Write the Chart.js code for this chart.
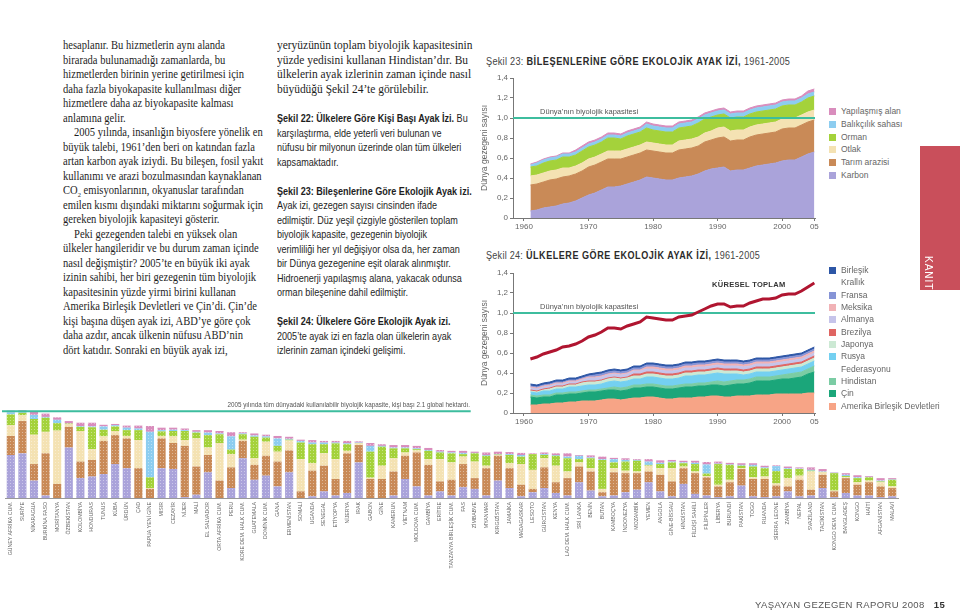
<!DOCTYPE html>
<html lang="tr">
<head>
<meta charset="utf-8">
<script src="https://cdn.jsdelivr.net/npm/chart.js@4.4.1/dist/chart.umd.min.js"></script>
<style>
html, body { margin: 0; padding: 0; background: #fff; }
body { width: 960px; height: 612px; position: relative; overflow: hidden; font-family: "Liberation Sans", Arial, sans-serif; color: #222; }
.abs { position: absolute; }
.serif { font-family: "Liberation Serif", "Times New Roman", serif; font-size: 11.5px; line-height: 14.5px; color: #1e1e1e; }
.sans { font-family: "Liberation Sans", Arial, sans-serif; font-size: 10.5px; line-height: 14.5px; color: #1e1e1e; }
.fit { transform-origin: 0 0; white-space: nowrap; }
.fit > div { width: max-content; }
.ind { padding-left: 12px; }
.bos { height: 14.5px; }
.baslik { font-size: 10px; color: #444; letter-spacing: 0.3px; }
.baslik b { color: #2a2a2a; font-weight: 900; letter-spacing: 0.6px; }
.lej { font-size: 8.5px; color: #666; white-space: pre; }
.lej .sw { position: absolute; left: 0; width: 7px; height: 7px; }
canvas { position: absolute; }
</style>
</head>
<body>

<!-- sol sütun -->
<div id="sol" class="abs serif fit" style="left:63px; top:38px;">
  <div>hesaplanır. Bu hizmetlerin aynı alanda</div>
  <div>birarada bulunamadığı zamanlarda, bu</div>
  <div>hizmetlerden birinin yerine getirilmesi için</div>
  <div>daha fazla biyokapasite kullanılması diğer</div>
  <div>hizmetlere daha az biyokapasite kalması</div>
  <div>anlamına gelir.</div>
  <div class="ind">2005 yılında, insanlığın biyosfere yönelik en</div>
  <div>büyük talebi, 1961’den beri on katından fazla</div>
  <div>artan karbon ayak iziydi. Bu bileşen, fosil yakıt</div>
  <div>kullanımı ve arazi bozulmasından kaynaklanan</div>
  <div>CO<sub style="font-size:7px;line-height:0">2</sub> emisyonlarının, okyanuslar tarafından</div>
  <div>emilen kısmı dışındaki miktarını soğurmak için</div>
  <div>gereken biyolojik kapasiteyi gösterir.</div>
  <div class="ind">Peki gezegenden talebi en yüksek olan</div>
  <div>ülkeler hangileridir ve bu durum zaman içinde</div>
  <div>nasıl değişmiştir? 2005’te en büyük iki ayak</div>
  <div>izinin sahibi, her biri gezegenin tüm biyolojik</div>
  <div>kapasitesinin yüzde yirmi birini kullanan</div>
  <div>Amerika Birleşik Devletleri ve Çin’di. Çin’de</div>
  <div>kişi başına düşen ayak izi, ABD’ye göre çok</div>
  <div>daha azdır, ancak ülkenin nüfusu ABD’nin</div>
  <div>dört katıdır. Sonraki en büyük ayak izi,</div>
</div>

<!-- orta sütun -->
<div id="ortaSerif" class="abs serif fit" style="left:277px; top:38px;">
  <div>yeryüzünün toplam biyolojik kapasitesinin</div>
  <div>yüzde yedisini kullanan Hindistan’dır. Bu</div>
  <div>ülkelerin ayak izlerinin zaman içinde nasıl</div>
  <div>büyüdüğü Şekil 24’te görülebilir.</div>
</div>
<div id="ortaSans" class="abs sans fit" style="left:277px; top:111px;">
  <div><b>Şekil 22: Ülkelere Göre Kişi Başı Ayak İzi.</b> Bu</div>
  <div>karşılaştırma, elde yeterli veri bulunan ve</div>
  <div>nüfusu bir milyonun üzerinde olan tüm ülkeleri</div>
  <div>kapsamaktadır.</div>
  <div class="bos"></div>
  <div><b>Şekil 23: Bileşenlerine Göre Ekolojik Ayak izi.</b></div>
  <div>Ayak izi, gezegen sayısı cinsinden ifade</div>
  <div>edilmiştir. Düz yeşil çizgiyle gösterilen toplam</div>
  <div>biyolojik kapasite, gezegenin biyolojik</div>
  <div>verimliliği her yıl değişiyor olsa da, her zaman</div>
  <div>bir Dünya gezegenine eşit olarak alınmıştır.</div>
  <div>Hidroenerji yapılaşmış alana, yakacak odunsa</div>
  <div>orman bileşenine dahil edilmiştir.</div>
  <div class="bos"></div>
  <div><b>Şekil 24: Ülkelere Göre Ekolojik Ayak izi.</b></div>
  <div>2005’te ayak izi en fazla olan ülkelerin ayak</div>
  <div>izlerinin zaman içindeki gelişimi.</div>
</div>

<!-- grafik başlıkları -->
<div id="baslik23" class="abs baslik fit" style="left:486px; top:56px;"><div>Şekil 23: <b>BİLEŞENLERİNE GÖRE EKOLOJİK AYAK İZİ,</b> 1961-2005</div></div>
<div id="baslik24" class="abs baslik fit" style="left:486px; top:250px;"><div>Şekil 24: <b>ÜLKELERE GÖRE EKOLOJİK AYAK İZİ,</b> 1961-2005</div></div>

<canvas id="grafik23" width="340" height="165" style="left:480px; top:70px;"></canvas>
<canvas id="grafik24" width="340" height="165" style="left:480px; top:265px;"></canvas>
<canvas id="grafik22" width="960" height="205" style="left:0px; top:395px;"></canvas>

<div class="abs" style="left:712px; top:280px; font-size:7.5px; font-weight:bold; color:#333; letter-spacing:0.3px;">KÜRESEL TOPLAM</div>

<div id="lejant23" class="abs lej" style="left:829px; top:105px; line-height:12.8px;"></div>
<div id="lejant24" class="abs lej" style="left:829px; top:264px; line-height:12.35px;"></div>

<div class="abs" style="right:490px; top:401px; font-size:6.3px; color:#555; white-space:nowrap;">2005 yılında tüm dünyadaki kullanılabilir biyolojik kapasite, kişi başı 2.1 global hektardı.</div>

<!-- kırmızı sekme -->
<div class="abs" style="left:920px; top:146px; width:40px; height:144px; background:#c94f5b;"></div>
<div class="abs" style="left:923px; top:256px; writing-mode:vertical-rl; color:#fff; font-size:10px; letter-spacing:1px;">KANIT</div>

<div class="abs" style="left:755px; top:599px; font-size:9.5px; color:#555; letter-spacing:0.4px; white-space:nowrap;">YAŞAYAN GEZEGEN RAPORU 2008 &nbsp;&nbsp;<b style="color:#333">15</b></div>

<script>
// Şekil 23 ve 24: yıllar (1961-2005)
const yillar = [];
for (let y = 1961; y <= 2005; y++) yillar.push(y);
const xEtiketleri = [1960, 1970, 1980, 1990, 2000, 2005];
const yEtiketleri = ["0", "0,2", "0,4", "0,6", "0,8", "1,0", "1,2", "1,4"];
const kapasite = 1;      // Dünya'nın biyolojik kapasitesi (gezegen)
const kisiBasiKapasite = 2.1;  // global hektar

// Şekil 23: bileşenlere göre (Dünya gezegeni sayısı)
const karbon = [0.07,0.08,0.10,0.11,0.12,0.14,0.15,0.17,0.20,0.23,0.25,0.28,0.31,0.31,0.32,0.34,0.36,0.38,0.41,0.40,0.39,0.38,0.38,0.40,0.41,0.42,0.44,0.47,0.49,0.50,0.51,0.47,0.48,0.48,0.50,0.52,0.53,0.54,0.55,0.57,0.58,0.58,0.61,0.64,0.66];
const tarimArazisi = [0.26,0.26,0.26,0.27,0.27,0.27,0.27,0.27,0.27,0.28,0.28,0.28,0.28,0.28,0.27,0.27,0.27,0.27,0.27,0.27,0.27,0.27,0.27,0.28,0.28,0.28,0.28,0.29,0.29,0.30,0.30,0.30,0.30,0.30,0.31,0.31,0.31,0.31,0.31,0.32,0.32,0.32,0.32,0.32,0.32];
const otlak = [0.09,0.09,0.09,0.09,0.09,0.09,0.08,0.08,0.08,0.08,0.08,0.08,0.08,0.08,0.08,0.08,0.08,0.08,0.08,0.08,0.08,0.08,0.08,0.09,0.09,0.09,0.09,0.09,0.09,0.10,0.10,0.10,0.10,0.10,0.10,0.10,0.10,0.10,0.10,0.10,0.10,0.10,0.10,0.10,0.10];
const orman = [0.09,0.09,0.10,0.10,0.10,0.11,0.11,0.11,0.12,0.12,0.12,0.12,0.13,0.13,0.12,0.13,0.13,0.13,0.14,0.13,0.13,0.13,0.13,0.13,0.13,0.13,0.14,0.14,0.14,0.13,0.13,0.13,0.13,0.13,0.13,0.13,0.13,0.13,0.13,0.13,0.13,0.13,0.13,0.14,0.14];
const balikcilik = [0.02,0.03,0.03,0.03,0.03,0.03,0.03,0.03,0.03,0.03,0.03,0.03,0.03,0.03,0.03,0.03,0.03,0.03,0.04,0.04,0.04,0.04,0.04,0.04,0.04,0.04,0.04,0.04,0.04,0.04,0.04,0.04,0.04,0.04,0.04,0.04,0.04,0.04,0.04,0.04,0.04,0.04,0.04,0.04,0.04];
const yapilasmis = [0.01,0.01,0.01,0.01,0.01,0.01,0.01,0.02,0.02,0.02,0.02,0.02,0.02,0.02,0.02,0.02,0.02,0.02,0.02,0.02,0.02,0.02,0.02,0.02,0.02,0.02,0.02,0.02,0.02,0.02,0.02,0.02,0.02,0.02,0.02,0.02,0.02,0.02,0.02,0.02,0.02,0.02,0.02,0.03,0.03];

// Şekil 24: ülkelere göre
const abd = [0.08,0.08,0.09,0.09,0.10,0.10,0.11,0.11,0.12,0.12,0.12,0.13,0.14,0.14,0.13,0.14,0.15,0.15,0.16,0.16,0.15,0.14,0.14,0.15,0.15,0.15,0.16,0.16,0.17,0.17,0.16,0.16,0.17,0.17,0.17,0.18,0.18,0.18,0.19,0.19,0.19,0.19,0.19,0.20,0.20];
const cin = [0.08,0.07,0.07,0.07,0.08,0.08,0.08,0.08,0.08,0.09,0.09,0.09,0.09,0.09,0.09,0.09,0.10,0.10,0.10,0.10,0.10,0.10,0.10,0.10,0.11,0.11,0.11,0.11,0.11,0.11,0.11,0.12,0.12,0.12,0.13,0.14,0.14,0.14,0.14,0.15,0.15,0.16,0.17,0.19,0.21];
const hindistan = [0.02,0.02,0.02,0.02,0.02,0.02,0.02,0.02,0.02,0.02,0.02,0.02,0.02,0.03,0.03,0.03,0.03,0.03,0.03,0.03,0.03,0.03,0.03,0.03,0.03,0.03,0.03,0.03,0.03,0.04,0.04,0.04,0.04,0.04,0.04,0.04,0.04,0.04,0.04,0.04,0.05,0.05,0.05,0.05,0.06];
const rusya = [0.03,0.03,0.04,0.04,0.04,0.04,0.05,0.05,0.05,0.05,0.05,0.05,0.06,0.06,0.06,0.06,0.06,0.06,0.07,0.07,0.07,0.07,0.07,0.07,0.08,0.08,0.08,0.08,0.08,0.08,0.08,0.07,0.06,0.05,0.05,0.05,0.05,0.05,0.05,0.05,0.05,0.05,0.05,0.05,0.05];
const japonya = [0.01,0.01,0.01,0.02,0.02,0.02,0.02,0.02,0.03,0.03,0.03,0.03,0.03,0.03,0.03,0.03,0.03,0.03,0.03,0.03,0.03,0.03,0.03,0.03,0.03,0.03,0.03,0.03,0.03,0.03,0.03,0.03,0.03,0.03,0.03,0.03,0.03,0.03,0.03,0.03,0.03,0.03,0.03,0.03,0.03];
const brezilya = [0.01,0.01,0.01,0.01,0.01,0.01,0.01,0.01,0.01,0.01,0.01,0.01,0.01,0.01,0.01,0.01,0.02,0.02,0.02,0.02,0.02,0.02,0.02,0.02,0.02,0.02,0.02,0.02,0.02,0.02,0.02,0.02,0.02,0.02,0.02,0.02,0.02,0.02,0.02,0.02,0.02,0.02,0.02,0.02,0.02];
const almanya = [0.02,0.02,0.02,0.02,0.02,0.02,0.02,0.02,0.02,0.03,0.03,0.03,0.03,0.03,0.03,0.03,0.03,0.03,0.03,0.03,0.03,0.03,0.03,0.03,0.03,0.03,0.03,0.03,0.03,0.03,0.03,0.03,0.03,0.03,0.03,0.03,0.03,0.03,0.03,0.03,0.03,0.03,0.03,0.03,0.03];
const meksika = [0.01,0.01,0.01,0.01,0.01,0.01,0.01,0.01,0.01,0.01,0.01,0.01,0.01,0.01,0.01,0.01,0.01,0.01,0.02,0.02,0.02,0.02,0.02,0.02,0.02,0.02,0.02,0.02,0.02,0.02,0.02,0.02,0.02,0.02,0.02,0.02,0.02,0.02,0.02,0.02,0.02,0.02,0.02,0.02,0.02];
const fransa = [0.01,0.01,0.01,0.01,0.01,0.01,0.01,0.01,0.01,0.01,0.02,0.02,0.02,0.02,0.02,0.02,0.02,0.02,0.02,0.02,0.02,0.02,0.02,0.02,0.02,0.02,0.02,0.02,0.02,0.02,0.02,0.02,0.02,0.02,0.02,0.02,0.02,0.02,0.02,0.02,0.02,0.02,0.02,0.02,0.02];
const birlesikKrallik = [0.02,0.02,0.02,0.02,0.02,0.02,0.02,0.02,0.02,0.02,0.02,0.02,0.02,0.02,0.02,0.02,0.02,0.02,0.02,0.02,0.02,0.02,0.02,0.02,0.02,0.02,0.02,0.02,0.02,0.02,0.02,0.02,0.02,0.02,0.02,0.02,0.02,0.02,0.02,0.02,0.02,0.02,0.02,0.02,0.02];
const kureselToplam = [0.54,0.56,0.59,0.61,0.63,0.66,0.67,0.69,0.72,0.76,0.78,0.81,0.85,0.85,0.84,0.87,0.89,0.91,0.96,0.95,0.94,0.93,0.93,0.96,0.97,0.98,1.01,1.04,1.07,1.09,1.09,1.06,1.07,1.07,1.10,1.12,1.14,1.14,1.15,1.18,1.19,1.19,1.22,1.26,1.30];

// Şekil 22: ülkelere göre kişi başı ayak izi (küresel hektar)
const ulkeler = ["GÜNEY AFRİKA CUM.","SURİYE","NİKARAGUA","BURKİNA FASO","MORİTANYA","ÖZBEKİSTAN","KOLOMBİYA","HONDURAS","TUNUS","KÜBA","ÜRDÜN","ÇAD","PAPUA YENİ GİNE","MISIR","CEZAYİR","NİJER","MALİ","EL SALVADOR","ORTA AFRİKA CUM.","PERU","KORE DEM. HALK CUM.","GUATEMALA","DOMİNİK CUM.","GANA","ERMENİSTAN","SOMALİ","UGANDA","SENEGAL","ETİYOPYA","NİJERYA","IRAK","GABON","GİNE","KAMERUN","VİETNAM","MOLDOVA CUM.","GAMBİYA","ERİTRE","TANZANYA BİRLEŞİK CUM.","FAS","ZİMBABVE","MYANMAR","KIRGIZİSTAN","JAMAİKA","MADAGASKAR","LESOTO","GÜRCİSTAN","KENYA","LAO DEM. HALK CUM.","SRİ LANKA","BENİN","BUTAN","KAMBOÇYA","İNDONEZYA","MOZAMBİK","YEMEN","ANGOLA","GİNE-BİSSAU","HİNDİSTAN","FİLDİŞİ SAHİLİ","FİLİPİNLER","LİBERYA","BURUNDİ","PAKİSTAN","TOGO","RUANDA","SİERRA LEONE","ZAMBİYA","NEPAL","SVAZİLAND","TACİKİSTAN","KONGO DEM. CUM.","BANGLADEŞ","KONGO","HAİTİ","AFGANİSTAN","MALAVİ"];
const ulkeKarbon = [1.04,1.08,0.42,0.06,0.00,1.22,0.48,0.52,0.58,0.82,0.72,0.00,0.00,0.72,0.70,0.02,0.08,0.62,0.00,0.24,0.96,0.44,0.54,0.28,0.62,0.00,0.04,0.16,0.06,0.12,0.86,0.00,0.00,0.06,0.46,0.28,0.06,0.16,0.06,0.26,0.22,0.06,0.42,0.24,0.04,0.14,0.24,0.12,0.06,0.38,0.18,0.04,0.06,0.14,0.20,0.38,0.16,0.04,0.34,0.10,0.06,0.02,0.04,0.30,0.04,0.02,0.04,0.16,0.04,0.06,0.24,0.02,0.12,0.06,0.06,0.02,0.04];
const ulkeTarim = [0.46,0.78,0.40,1.02,0.34,0.50,0.40,0.40,0.80,0.70,0.72,0.72,0.22,0.72,0.63,1.24,0.68,0.42,0.42,0.50,0.42,0.36,0.48,0.60,0.53,0.16,0.62,0.62,0.40,0.96,0.42,0.46,0.46,0.58,0.56,0.82,0.74,0.24,0.38,0.56,0.26,0.66,0.60,0.48,0.28,0.08,0.50,0.26,0.42,0.38,0.46,0.10,0.56,0.46,0.40,0.26,0.40,0.36,0.38,0.50,0.44,0.26,0.34,0.40,0.42,0.44,0.26,0.12,0.40,0.14,0.32,0.14,0.36,0.26,0.32,0.26,0.20];
const ulkeOtlak = [0.26,0.14,0.71,0.52,1.29,0.06,0.74,0.26,0.11,0.10,0.06,0.68,0.02,0.06,0.16,0.14,0.68,0.18,0.91,0.32,0.03,0.16,0.34,0.24,0.24,0.78,0.18,0.30,0.48,0.06,0.04,0.03,0.32,0.32,0.08,0.05,0.14,0.54,0.42,0.18,0.40,0.06,0.02,0.12,0.50,0.46,0.22,0.40,0.16,0.10,0.08,0.08,0.10,0.06,0.04,0.14,0.16,0.32,0.04,0.04,0.03,0.04,0.06,0.02,0.04,0.06,0.05,0.20,0.10,0.44,0.06,0.02,0.02,0.06,0.04,0.10,0.04];
const ulkeOrman = [0.26,0.06,0.38,0.34,0.18,0.02,0.10,0.53,0.16,0.11,0.14,0.24,0.26,0.11,0.13,0.22,0.14,0.30,0.21,0.11,0.13,0.52,0.10,0.14,0.02,0.40,0.46,0.22,0.38,0.16,0.01,0.63,0.46,0.24,0.10,0.03,0.20,0.16,0.22,0.06,0.20,0.24,0.01,0.20,0.18,0.38,0.08,0.24,0.32,0.08,0.24,0.70,0.14,0.22,0.26,0.02,0.10,0.14,0.08,0.18,0.06,0.50,0.36,0.06,0.26,0.20,0.30,0.22,0.16,0.02,0.01,0.42,0.03,0.10,0.08,0.02,0.16];
const ulkeBalik = [0.05,0.02,0.10,0.02,0.08,0.00,0.02,0.02,0.08,0.03,0.06,0.04,1.10,0.03,0.03,0.02,0.02,0.06,0.02,0.32,0.02,0.03,0.03,0.18,0.02,0.04,0.04,0.04,0.02,0.02,0.01,0.14,0.02,0.02,0.02,0.02,0.02,0.02,0.02,0.03,0.01,0.02,0.01,0.02,0.04,0.00,0.02,0.02,0.04,0.08,0.02,0.02,0.08,0.04,0.02,0.08,0.03,0.02,0.02,0.03,0.22,0.01,0.01,0.02,0.04,0.02,0.12,0.02,0.01,0.02,0.01,0.01,0.03,0.02,0.01,0.02,0.01];
const ulkeYapi = [0.04,0.04,0.07,0.08,0.06,0.06,0.08,0.09,0.04,0.03,0.05,0.07,0.14,0.06,0.05,0.04,0.04,0.06,0.06,0.10,0.03,0.05,0.04,0.06,0.05,0.03,0.06,0.04,0.04,0.06,0.03,0.07,0.04,0.06,0.06,0.06,0.05,0.04,0.04,0.05,0.03,0.06,0.06,0.05,0.05,0.02,0.04,0.04,0.08,0.02,0.05,0.06,0.03,0.04,0.02,0.06,0.06,0.04,0.04,0.05,0.06,0.05,0.04,0.04,0.04,0.04,0.02,0.04,0.03,0.06,0.06,0.01,0.04,0.05,0.02,0.06,0.03];

const bilesenler = [
  { ad: "Karbon", renk: "#aaa3da", veri: karbon, ulke: ulkeKarbon },
  { ad: "Tarım arazisi", renk: "#c98a57", veri: tarimArazisi, ulke: ulkeTarim },
  { ad: "Otlak", renk: "#f4e2b3", veri: otlak, ulke: ulkeOtlak },
  { ad: "Orman", renk: "#a4d23b", veri: orman, ulke: ulkeOrman },
  { ad: "Balıkçılık sahası", renk: "#8dcdf0", veri: balikcilik, ulke: ulkeBalik },
  { ad: "Yapılaşmış alan", renk: "#d98dbd", veri: yapilasmis, ulke: ulkeYapi },
];

const ulkeSerileri = [
  { ad: "Amerika Birleşik Devletleri", renk: "#f7a486", veri: abd },
  { ad: "Çin", renk: "#1ba67a", veri: cin },
  { ad: "Hindistan", renk: "#7bcca4", veri: hindistan },
  { ad: "Rusya\nFederasyonu", renk: "#74d0f1", veri: rusya },
  { ad: "Japonya", renk: "#cce9d4", veri: japonya },
  { ad: "Brezilya", renk: "#df6562", veri: brezilya },
  { ad: "Almanya", renk: "#c6c4ea", veri: almanya },
  { ad: "Meksika", renk: "#f1b2b6", veri: meksika },
  { ad: "Fransa", renk: "#8694d6", veri: fransa },
  { ad: "Birleşik\nKrallık", renk: "#2d56a6", veri: birlesikKrallik },
];

// metin bloklarını sütun genişliğine sığdır
function sigdir(id, genislik) {
  const el = document.getElementById(id);
  let enGenis = 0;
  for (const satir of el.children) enGenis = Math.max(enGenis, satir.scrollWidth);
  if (enGenis > 0) el.style.transform = "scaleX(" + (genislik / enGenis) + ")";
}
sigdir("sol", 200);
sigdir("ortaSerif", 195);
sigdir("ortaSans", 195);
sigdir("baslik23", 304);
sigdir("baslik24", 274);

function lejantYap(id, ogeler) {
  const kutu = document.getElementById(id);
  ogeler.forEach(o => {
    const d = document.createElement("div");
    d.style.position = "relative";
    d.style.paddingLeft = "12px";
    d.textContent = o.ad;
    const sw = document.createElement("span");
    sw.className = "sw";
    sw.style.background = o.renk;
    sw.style.top = "3px";
    d.appendChild(sw);
    kutu.appendChild(d);
  });
}
lejantYap("lejant23", bilesenler.slice().reverse());
lejantYap("lejant24", ulkeSerileri.slice().reverse());

function noktali(renk) {
  const c = document.createElement("canvas");
  c.width = 3; c.height = 3;
  const g = c.getContext("2d");
  g.fillStyle = renk;
  g.fillRect(0, 0, 3, 3);
  g.fillStyle = "rgba(255,255,255,0.4)";
  g.fillRect(1, 1, 1, 1);
  return g.createPattern(c, "repeat");
}

const kapasiteCizgisi = {
  id: "kapasite",
  ciz(chart) {
    const { ctx, chartArea, scales } = chart;
    const y = scales.y.getPixelForValue(kapasite);
    ctx.save();
    ctx.strokeStyle = "#3dbd9e";
    ctx.lineWidth = 2;
    ctx.beginPath();
    ctx.moveTo(chartArea.left, y);
    ctx.lineTo(chartArea.right, y);
    ctx.stroke();
    ctx.font = '7.5px "Liberation Sans", Arial, sans-serif';
    ctx.fillStyle = "#555";
    ctx.textBaseline = "bottom";
    ctx.fillText("Dünya’nın biyolojik kapasitesi", scales.x.getPixelForValue(1962.5), y - 2);
    ctx.restore();
  },
  beforeDatasetsDraw(chart, args, o) { if (o.altta) this.ciz(chart); },
  afterDatasetsDraw(chart, args, o) { if (!o.altta) this.ciz(chart); },
};

const eksenYazi = { size: 8, family: '"Liberation Sans", Arial, sans-serif' };

function zamanEksenleri() {
  return {
    x: {
      type: "linear", min: 1958.3, max: 2005.1,
      grid: { drawOnChartArea: false, tickLength: 3, color: "#777" },
      border: { color: "#777" },
      afterBuildTicks: s => { s.ticks = xEtiketleri.map(v => ({ value: v })); },
      ticks: { callback: v => (v === 2005 ? "05" : String(v)), font: eksenYazi, color: "#666", padding: 1, maxRotation: 0 },
      afterFit: s => { s.height = 17; },
    },
    y: {
      stacked: true, min: 0, max: 1.4,
      grid: { drawOnChartArea: false, tickLength: 3, color: "#777" },
      border: { color: "#777" },
      ticks: { stepSize: 0.2, callback: (v, i) => yEtiketleri[i], font: eksenYazi, color: "#666", padding: 2 },
      title: { display: true, text: "Dünya gezegeni sayısı", font: { size: 8.5, family: eksenYazi.family }, color: "#666", padding: 0 },
      afterFit: s => { s.width = 33; },
    },
  };
}

const ortakSecenekler = {
  responsive: false,
  animation: false,
  layout: { padding: { top: 8, right: 5, left: 0, bottom: 0 } },
  elements: { point: { radius: 0 }, line: { tension: 0 } },
};

new Chart(document.getElementById("grafik23"), {
  type: "line",
  data: {
    datasets: bilesenler.map((b, i) => ({
      label: b.ad,
      data: yillar.map((yil, j) => ({ x: yil, y: b.veri[j] })),
      backgroundColor: b.renk,
      borderColor: b.renk,
      borderWidth: 1,
      fill: i === 0 ? "origin" : "-1",
    })),
  },
  options: Object.assign({}, ortakSecenekler, {
    scales: zamanEksenleri(),
    plugins: { legend: { display: false }, tooltip: { enabled: false }, kapasite: { altta: false } },
  }),
  plugins: [kapasiteCizgisi],
});

const grafik24Verisi = [{
  label: "Küresel toplam",
  data: yillar.map((yil, j) => ({ x: yil, y: kureselToplam[j] })),
  borderColor: "#b01530",
  borderWidth: 3,
  fill: false,
  stack: "toplam",
}].concat(ulkeSerileri.map((u, i) => ({
  label: u.ad,
  data: yillar.map((yil, j) => ({ x: yil, y: u.veri[j] })),
  backgroundColor: u.renk,
  borderColor: u.renk,
  borderWidth: 1,
  fill: i === 0 ? "origin" : "-1",
  stack: "ulke",
})));

new Chart(document.getElementById("grafik24"), {
  type: "line",
  data: { datasets: grafik24Verisi },
  options: Object.assign({}, ortakSecenekler, {
    scales: zamanEksenleri(),
    plugins: { legend: { display: false }, tooltip: { enabled: false }, kapasite: { altta: true } },
  }),
  plugins: [kapasiteCizgisi],
});

// Şekil 22 çubuk grafiği
const kisiBasiCizgi = {
  id: "kisiBasi",
  afterDatasetsDraw(chart) {
    const { ctx, scales } = chart;
    const y = scales.y.getPixelForValue(kisiBasiKapasite);
    const bitis = scales.x.getPixelForValue(40) - 4;
    ctx.save();
    ctx.strokeStyle = "#3dbd9e";
    ctx.lineWidth = 2;
    ctx.beginPath();
    ctx.moveTo(2, y);
    ctx.lineTo(bitis, y);
    ctx.stroke();
    ctx.restore();
  },
};

new Chart(document.getElementById("grafik22"), {
  type: "bar",
  data: {
    labels: ulkeler,
    datasets: bilesenler.map(b => ({
      label: b.ad,
      data: b.ulke,
      backgroundColor: noktali(b.renk),
      borderWidth: 0,
      barPercentage: 0.7,
      categoryPercentage: 1,
    })),
  },
  options: {
    responsive: false,
    animation: false,
    layout: { padding: { left: 5, right: 62, top: 0, bottom: 0 } },
    plugins: { legend: { display: false }, tooltip: { enabled: false } },
    scales: {
      x: {
        stacked: true,
        grid: { display: false, drawTicks: false },
        border: { color: "#999" },
        ticks: { autoSkip: false, minRotation: 90, maxRotation: 90, font: { size: 5.2, family: eksenYazi.family }, color: "#666", padding: 4 },
        afterFit: s => { s.height = 102; },
      },
      y: { stacked: true, display: false, min: 0, max: 2.49 },
    },
  },
  plugins: [kisiBasiCizgi],
});
</script>
</body>
</html>
